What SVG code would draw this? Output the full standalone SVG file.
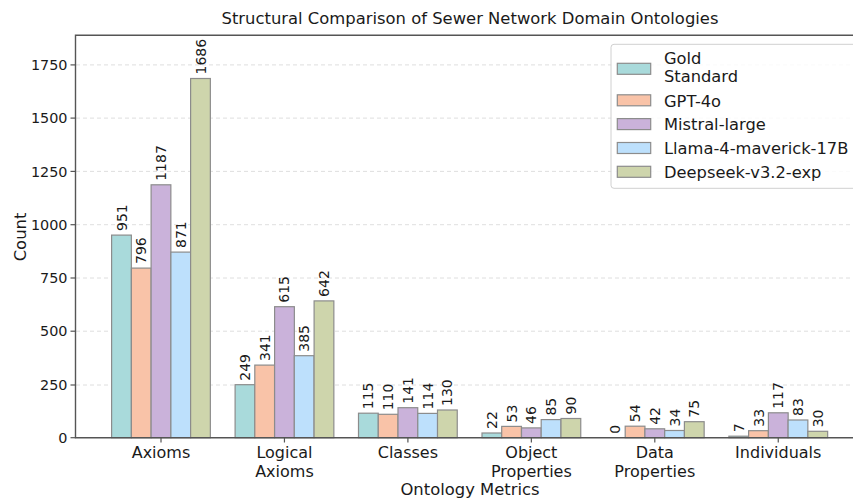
<svg xmlns="http://www.w3.org/2000/svg" width="853" height="500" viewBox="0 0 853 500">
  <style>
    text { font-family: "DejaVu Sans", "Liberation Sans", sans-serif; fill: #1a1a1a; }
    .title { font-size: 16.4px; text-anchor: middle; }
    .axlabel { font-size: 16.4px; text-anchor: middle; }
    .ytick { font-size: 14.4px; text-anchor: end; }
    .xtick { font-size: 16px; text-anchor: middle; }
    .val { font-size: 14px; text-anchor: start; }
    .leg { font-size: 16.3px; }
    .grid { stroke: #d6d6d6; stroke-width: 0.8; stroke-dasharray: 4 3; }
    .spine { stroke: #555; stroke-width: 1.4; fill: none; }
    .tick { stroke: #555; stroke-width: 1.2; }
    .bar { stroke: #8c8c8c; stroke-width: 1.2; }
    .gold { fill: #a9dadb; }
    .gpt { fill: #f9c3a8; }
    .mis { fill: #cab2da; }
    .lla { fill: #bde0fc; }
    .dsk { fill: #ced5ac; }
  </style>

  <rect x="0" y="0" width="853" height="500" fill="#ffffff"/>

  <text class="title" x="470" y="23.5">Structural Comparison of Sewer Network Domain Ontologies</text>

  <!-- horizontal grid -->
  <g id="grid">
    <line class="grid" x1="76" y1="385" x2="853" y2="385"/>
    <line class="grid" x1="76" y1="331.2" x2="853" y2="331.2"/>
    <line class="grid" x1="76" y1="278" x2="853" y2="278"/>
    <line class="grid" x1="76" y1="224.7" x2="853" y2="224.7"/>
    <line class="grid" x1="76" y1="171.4" x2="853" y2="171.4"/>
    <line class="grid" x1="76" y1="118.1" x2="853" y2="118.1"/>
    <line class="grid" x1="76" y1="64.9" x2="853" y2="64.9"/>
  </g>

  <!-- bars: Axioms -->
  <g id="axioms">
    <rect class="bar gold" x="111.6" y="235.1" width="19.75" height="202.6"/>
    <rect class="bar gpt" x="131.4" y="268.1" width="19.75" height="169.6"/>
    <rect class="bar mis" x="151.1" y="184.8" width="19.75" height="252.9"/>
    <rect class="bar lla" x="170.9" y="252.1" width="19.75" height="185.6"/>
    <rect class="bar dsk" x="190.6" y="78.5" width="19.75" height="359.2"/>
    <text class="val" transform="translate(126.5,231) rotate(-90)">951</text>
    <text class="val" transform="translate(146.2,264) rotate(-90)">796</text>
    <text class="val" transform="translate(166,180.8) rotate(-90)">1187</text>
    <text class="val" transform="translate(185.7,248) rotate(-90)">871</text>
    <text class="val" transform="translate(205.5,74.5) rotate(-90)">1686</text>
  </g>

  <!-- bars: Logical Axioms -->
  <g id="logical-axioms">
    <rect class="bar gold" x="235.1" y="384.7" width="19.75" height="53"/>
    <rect class="bar gpt" x="254.8" y="365.1" width="19.75" height="72.6"/>
    <rect class="bar mis" x="274.6" y="306.7" width="19.75" height="131"/>
    <rect class="bar lla" x="294.3" y="355.7" width="19.75" height="82"/>
    <rect class="bar dsk" x="314.1" y="300.9" width="19.75" height="136.8"/>
    <text class="val" transform="translate(249.9,380.7) rotate(-90)">249</text>
    <text class="val" transform="translate(269.7,361) rotate(-90)">341</text>
    <text class="val" transform="translate(289.4,302.7) rotate(-90)">615</text>
    <text class="val" transform="translate(309.2,351.7) rotate(-90)">385</text>
    <text class="val" transform="translate(328.9,296.9) rotate(-90)">642</text>
  </g>

  <!-- bars: Classes -->
  <g id="classes">
    <rect class="bar gold" x="358.5" y="413.2" width="19.75" height="24.5"/>
    <rect class="bar gpt" x="378.3" y="414.3" width="19.75" height="23.4"/>
    <rect class="bar mis" x="398" y="407.7" width="19.75" height="30"/>
    <rect class="bar lla" x="417.8" y="413.4" width="19.75" height="24.3"/>
    <rect class="bar dsk" x="437.5" y="410" width="19.75" height="27.7"/>
    <text class="val" transform="translate(373.4,409.2) rotate(-90)">115</text>
    <text class="val" transform="translate(393.1,410.3) rotate(-90)">110</text>
    <text class="val" transform="translate(412.9,403.7) rotate(-90)">141</text>
    <text class="val" transform="translate(432.6,409.4) rotate(-90)">114</text>
    <text class="val" transform="translate(452.4,406) rotate(-90)">130</text>
  </g>

  <!-- bars: Object Properties -->
  <g id="object-properties">
    <rect class="bar gold" x="482" y="433" width="19.75" height="4.7"/>
    <rect class="bar gpt" x="501.7" y="426.4" width="19.75" height="11.3"/>
    <rect class="bar mis" x="521.5" y="427.9" width="19.75" height="9.8"/>
    <rect class="bar lla" x="541.2" y="419.6" width="19.75" height="18.1"/>
    <rect class="bar dsk" x="561" y="418.5" width="19.75" height="19.2"/>
    <text class="val" transform="translate(496.8,429) rotate(-90)">22</text>
    <text class="val" transform="translate(516.6,422.4) rotate(-90)">53</text>
    <text class="val" transform="translate(536.3,423.9) rotate(-90)">46</text>
    <text class="val" transform="translate(556.1,415.6) rotate(-90)">85</text>
    <text class="val" transform="translate(575.8,414.5) rotate(-90)">90</text>
  </g>

  <!-- bars: Data Properties -->
  <g id="data-properties">
    <rect class="bar gold" x="605.4" y="437.7" width="19.75" height="0"/>
    <rect class="bar gpt" x="625.2" y="426.2" width="19.75" height="11.5"/>
    <rect class="bar mis" x="644.9" y="428.8" width="19.75" height="8.9"/>
    <rect class="bar lla" x="664.7" y="430.5" width="19.75" height="7.2"/>
    <rect class="bar dsk" x="684.4" y="421.7" width="19.75" height="16"/>
    <text class="val" transform="translate(620.3,433.7) rotate(-90)">0</text>
    <text class="val" transform="translate(640,422.2) rotate(-90)">54</text>
    <text class="val" transform="translate(659.8,424.8) rotate(-90)">42</text>
    <text class="val" transform="translate(679.5,426.5) rotate(-90)">34</text>
    <text class="val" transform="translate(699.3,417.7) rotate(-90)">75</text>
  </g>

  <!-- bars: Individuals -->
  <g id="individuals">
    <rect class="bar gold" x="728.9" y="436.2" width="19.75" height="1.5"/>
    <rect class="bar gpt" x="748.6" y="430.7" width="19.75" height="7"/>
    <rect class="bar mis" x="768.4" y="412.8" width="19.75" height="24.9"/>
    <rect class="bar lla" x="788.1" y="420" width="19.75" height="17.7"/>
    <rect class="bar dsk" x="807.9" y="431.3" width="19.75" height="6.4"/>
    <text class="val" transform="translate(743.7,432.2) rotate(-90)">7</text>
    <text class="val" transform="translate(763.5,426.7) rotate(-90)">33</text>
    <text class="val" transform="translate(783.2,408.8) rotate(-90)">117</text>
    <text class="val" transform="translate(803,416) rotate(-90)">83</text>
    <text class="val" transform="translate(822.7,427.3) rotate(-90)">30</text>
  </g>

  <!-- axes frame and ticks -->
  <g id="axes">
    <polyline class="spine" points="853,35.3 75.5,35.3 75.5,437.7 853,437.7"/>
    <line class="tick" x1="70.5" y1="437.7" x2="75.5" y2="437.7"/>
    <line class="tick" x1="70.5" y1="385" x2="75.5" y2="385"/>
    <line class="tick" x1="70.5" y1="331.2" x2="75.5" y2="331.2"/>
    <line class="tick" x1="70.5" y1="278" x2="75.5" y2="278"/>
    <line class="tick" x1="70.5" y1="224.7" x2="75.5" y2="224.7"/>
    <line class="tick" x1="70.5" y1="171.4" x2="75.5" y2="171.4"/>
    <line class="tick" x1="70.5" y1="118.1" x2="75.5" y2="118.1"/>
    <line class="tick" x1="70.5" y1="64.9" x2="75.5" y2="64.9"/>
    <line class="tick" x1="161" y1="437.7" x2="161" y2="442.5"/>
    <line class="tick" x1="284.45" y1="437.7" x2="284.45" y2="442.5"/>
    <line class="tick" x1="407.9" y1="437.7" x2="407.9" y2="442.5"/>
    <line class="tick" x1="531.35" y1="437.7" x2="531.35" y2="442.5"/>
    <line class="tick" x1="654.8" y1="437.7" x2="654.8" y2="442.5"/>
    <line class="tick" x1="778.25" y1="437.7" x2="778.25" y2="442.5"/>

    <text class="ytick" x="67.5" y="442.9">0</text>
    <text class="ytick" x="67.5" y="390.2">250</text>
    <text class="ytick" x="67.5" y="336.4">500</text>
    <text class="ytick" x="67.5" y="283.2">750</text>
    <text class="ytick" x="67.5" y="229.9">1000</text>
    <text class="ytick" x="67.5" y="176.6">1250</text>
    <text class="ytick" x="67.5" y="123.3">1500</text>
    <text class="ytick" x="67.5" y="70.1">1750</text>

    <text class="xtick" x="161" y="458.3">Axioms</text>
    <text class="xtick" x="284.45" y="458.3">Logical</text>
    <text class="xtick" x="284.45" y="476.5">Axioms</text>
    <text class="xtick" x="407.9" y="458.3">Classes</text>
    <text class="xtick" x="531.35" y="458.3">Object</text>
    <text class="xtick" x="531.35" y="476.5">Properties</text>
    <text class="xtick" x="654.8" y="458.3">Data</text>
    <text class="xtick" x="654.8" y="476.5">Properties</text>
    <text class="xtick" x="778.25" y="458.3">Individuals</text>

    <text class="axlabel" x="470" y="494.5">Ontology Metrics</text>
    <text class="axlabel" transform="translate(26,237) rotate(-90)">Count</text>
  </g>

  <!-- legend -->
  <g id="legend">
    <rect x="611" y="44.3" width="250" height="144" rx="3" ry="3" fill="#ffffff" fill-opacity="0.85" stroke="#d0d0d0" stroke-width="1"/>
    <rect class="bar gold" x="617.3" y="63.3" width="33.4" height="11"/>
    <rect class="bar gpt" x="617.3" y="94.8" width="33.4" height="11"/>
    <rect class="bar mis" x="617.3" y="118.6" width="33.4" height="11"/>
    <rect class="bar lla" x="617.3" y="142.5" width="33.4" height="11"/>
    <rect class="bar dsk" x="617.3" y="166.3" width="33.4" height="11"/>
    <text class="leg" x="664" y="63.8">Gold</text>
    <text class="leg" x="664" y="82">Standard</text>
    <text class="leg" x="664" y="106.5">GPT-4o</text>
    <text class="leg" x="664" y="130.3">Mistral-large</text>
    <text class="leg" x="664" y="154.2">Llama-4-maverick-17B</text>
    <text class="leg" x="664" y="178">Deepseek-v3.2-exp</text>
  </g>
</svg>
